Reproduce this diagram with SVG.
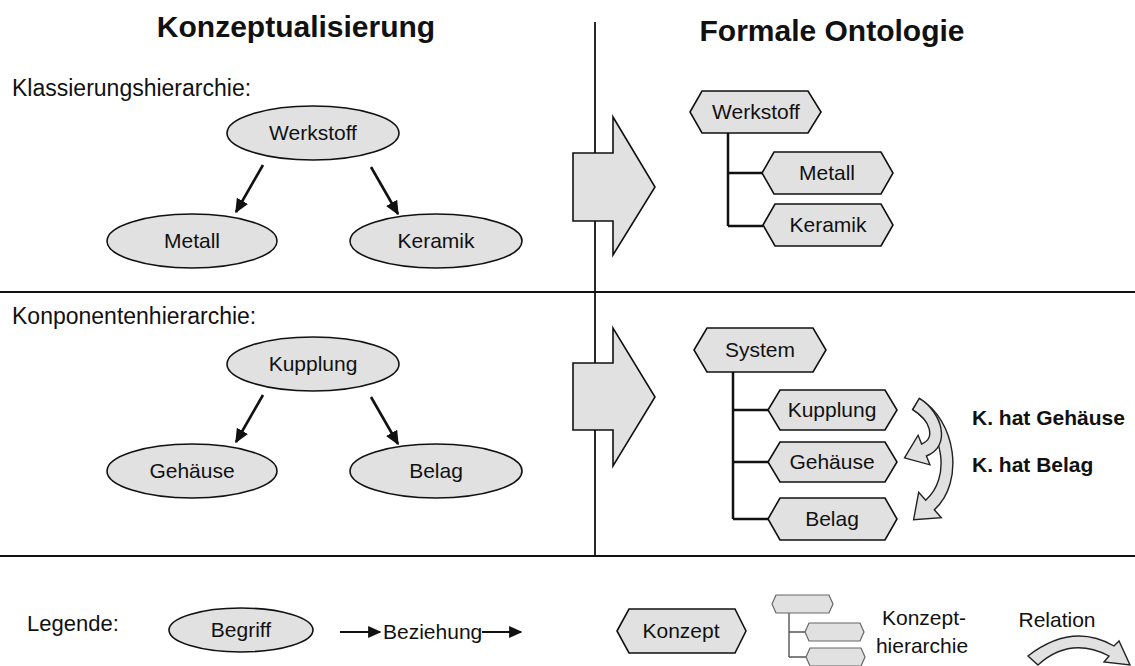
<svg xmlns="http://www.w3.org/2000/svg" width="1135" height="666" viewBox="0 0 1135 666">
  <style>
    text { font-family: "Liberation Sans", Arial, sans-serif; fill: #111; }
    .title { font-size: 30px; font-weight: bold; text-anchor: middle; }
    .sect { font-size: 23px; }
    .lbl { font-size: 21px; text-anchor: middle; }
    .rel { font-size: 21px; font-weight: bold; }
    .shape { fill: #e1e1e1; stroke: #111; stroke-width: 1.6; }
    .mini { fill: #e1e1e1; stroke: #666; stroke-width: 1.2; }
    .rule { stroke: #111; stroke-width: 1.8; fill: none; }
    .tree { stroke: #111; stroke-width: 2.5; fill: none; }
    .link { stroke: #111; stroke-width: 2.6; fill: none; marker-end: url(#head); }
    .bend { fill: #e1e1e1; stroke: #222; stroke-width: 1.4; stroke-linejoin: miter; }
  </style>
  <defs>
    <marker id="head" viewBox="0 0 10 10" refX="9" refY="5" markerWidth="5.5" markerHeight="5.5" orient="auto" markerUnits="strokeWidth">
      <path d="M0,0.5 L10,5 L0,9.5 z" fill="#111"/>
    </marker>
    <marker id="headS" viewBox="0 0 10 10" refX="9" refY="5" markerWidth="6" markerHeight="6" orient="auto" markerUnits="strokeWidth">
      <path d="M0,0.5 L10,5 L0,9.5 z" fill="#111"/>
    </marker>
  </defs>

  <!-- headings -->
  <text class="title" x="296" y="37">Konzeptualisierung</text>
  <text class="title" x="832" y="41">Formale Ontologie</text>

  <!-- panel rules -->
  <g id="rules">
    <line class="rule" x1="595" y1="22" x2="595" y2="556"/>
    <line class="rule" x1="0" y1="292" x2="1135" y2="292"/>
    <line class="rule" x1="0" y1="556" x2="1135" y2="556"/>
  </g>

  <text class="sect" x="12" y="96">Klassierungshierarchie:</text>
  <text class="sect" x="12" y="324">Konponentenhierarchie:</text>

  <!-- transformation arrows -->
  <g id="transform-top">
    <path class="shape" d="M573,153 L613,153 L613,117 L655,187 L613,255 L613,221 L573,221 Z"/>
  </g>
  <g id="transform-bottom">
    <path class="shape" d="M573,363 L613,363 L613,328 L655,397 L613,466 L613,430 L573,430 Z"/>
  </g>

  <!-- concept graph connectors -->
  <g id="connectors">
    <line class="link" x1="263" y1="165" x2="236" y2="212"/>
    <line class="link" x1="371" y1="167" x2="398" y2="214"/>
    <line class="link" x1="263" y1="395" x2="236" y2="442"/>
    <line class="link" x1="371" y1="397" x2="398" y2="444"/>
  </g>

  <!-- classification hierarchy terms -->
  <g id="c-werkstoff">
    <ellipse class="shape" cx="313" cy="133" rx="86" ry="27"/>
    <text class="lbl" x="313" y="140">Werkstoff</text>
  </g>
  <g id="c-metall">
    <ellipse class="shape" cx="192" cy="241" rx="85" ry="27"/>
    <text class="lbl" x="192" y="248">Metall</text>
  </g>
  <g id="c-keramik">
    <ellipse class="shape" cx="436" cy="241" rx="86" ry="27"/>
    <text class="lbl" x="436" y="248">Keramik</text>
  </g>

  <!-- component hierarchy terms -->
  <g id="c-kupplung">
    <ellipse class="shape" cx="313" cy="364" rx="86" ry="27"/>
    <text class="lbl" x="313" y="371">Kupplung</text>
  </g>
  <g id="c-gehaeuse">
    <ellipse class="shape" cx="192" cy="471" rx="85" ry="27"/>
    <text class="lbl" x="192" y="478">Gehäuse</text>
  </g>
  <g id="c-belag">
    <ellipse class="shape" cx="436" cy="471" rx="86" ry="27"/>
    <text class="lbl" x="436" y="478">Belag</text>
  </g>

  <!-- ontology trees -->
  <g id="tree-lines">
    <path class="tree" d="M728,133 L728,226 M728,173 L762,173 M728,226 L763,226"/>
    <path class="tree" d="M733,372 L733,519 M733,410 L768,410 M733,462 L768,462 M733,519 L768,519"/>
  </g>

  <g id="o-werkstoff">
    <path class="shape" d="M690,112 L702,91 L808,91 L821,112 L808,133 L702,133 Z"/>
    <text class="lbl" x="756" y="119">Werkstoff</text>
  </g>
  <g id="o-metall">
    <path class="shape" d="M762,173 L774,152 L881,152 L893,173 L881,194 L774,194 Z"/>
    <text class="lbl" x="827" y="180">Metall</text>
  </g>
  <g id="o-keramik">
    <path class="shape" d="M763,225 L775,204 L881,204 L893,225 L881,246 L775,246 Z"/>
    <text class="lbl" x="828" y="232">Keramik</text>
  </g>

  <g id="o-system">
    <path class="shape" d="M694,350 L707,328 L813,328 L826,350 L813,372 L707,372 Z"/>
    <text class="lbl" x="760" y="357">System</text>
  </g>
  <g id="o-kupplung">
    <path class="shape" d="M768,410 L780,390 L885,390 L897,410 L885,430 L780,430 Z"/>
    <text class="lbl" x="832" y="417">Kupplung</text>
  </g>
  <g id="o-gehaeuse">
    <path class="shape" d="M768,462 L780,442 L885,442 L897,462 L885,482 L780,482 Z"/>
    <text class="lbl" x="832" y="469">Gehäuse</text>
  </g>
  <g id="o-belag">
    <path class="shape" d="M768,519 L780,498 L885,498 L897,519 L885,540 L780,540 Z"/>
    <text class="lbl" x="832" y="526">Belag</text>
  </g>

  <!-- relations between components -->
  <g id="relations">
    <path class="bend" d="M919.4,398.5 C956,420 965,482 934.3,509.8 L941.3,517.7 L913.6,519.7 L918.7,492.3 L925.7,500.2 C951,478 944,430 912.6,409.5 Z"/>
    <path class="bend" d="M919.3,398.4 C942,412 952,446 926.4,456 L929.9,464.8 L904.5,457.8 L918.1,435.2 L921.6,444 C936,438 930,420 912.7,409.6 Z"/>
  </g>
  <text class="rel" x="972" y="425">K. hat Gehäuse</text>
  <text class="rel" x="972" y="472">K. hat Belag</text>

  <!-- legend -->
  <g id="legend">
    <text class="sect" x="27" y="631" style="font-size:22px">Legende:</text>
    <g id="lg-begriff">
      <ellipse class="shape" cx="241" cy="630" rx="72" ry="22"/>
      <text class="lbl" x="241" y="637">Begriff</text>
    </g>
    <g id="lg-beziehung">
      <line x1="340" y1="632" x2="380" y2="632" stroke="#111" stroke-width="2.2" marker-end="url(#headS)"/>
      <text x="383" y="639" style="font-size:21px">Beziehung</text>
      <line x1="482" y1="632" x2="521" y2="632" stroke="#111" stroke-width="2.2" marker-end="url(#headS)"/>
    </g>
    <g id="lg-konzept">
      <path class="shape" d="M617,631 L629,609 L735,609 L746,631 L735,653 L629,653 Z"/>
      <text class="lbl" x="681" y="638">Konzept</text>
    </g>
    <g id="lg-hierarchie">
      <path d="M789,613 L789,657 M789,632 L806,632 M789,657 L806,657" stroke="#555" stroke-width="1.4" fill="none"/>
      <path class="mini" d="M772,604 L776,595 L829,595 L833,604 L829,613 L776,613 Z"/>
      <path class="mini" d="M805,632 L809,623 L860,623 L864,632 L860,641 L809,641 Z"/>
      <path class="mini" d="M806,657 L810,648 L861,648 L865,657 L861,666 L810,666 Z"/>
      <text x="924" y="625" style="font-size:21px;text-anchor:middle">Konzept-</text>
      <text x="922" y="653" style="font-size:21px;text-anchor:middle">hierarchie</text>
    </g>
    <g id="lg-relation">
      <text x="1057" y="627" style="font-size:21px;text-anchor:middle">Relation</text>
      <path class="bend" d="M1028,656 Q1072,622 1114,646 L1119,641 L1130,665 L1104,662 L1109,656 Q1070,636 1038,665 Z"/>
    </g>
  </g>
</svg>
